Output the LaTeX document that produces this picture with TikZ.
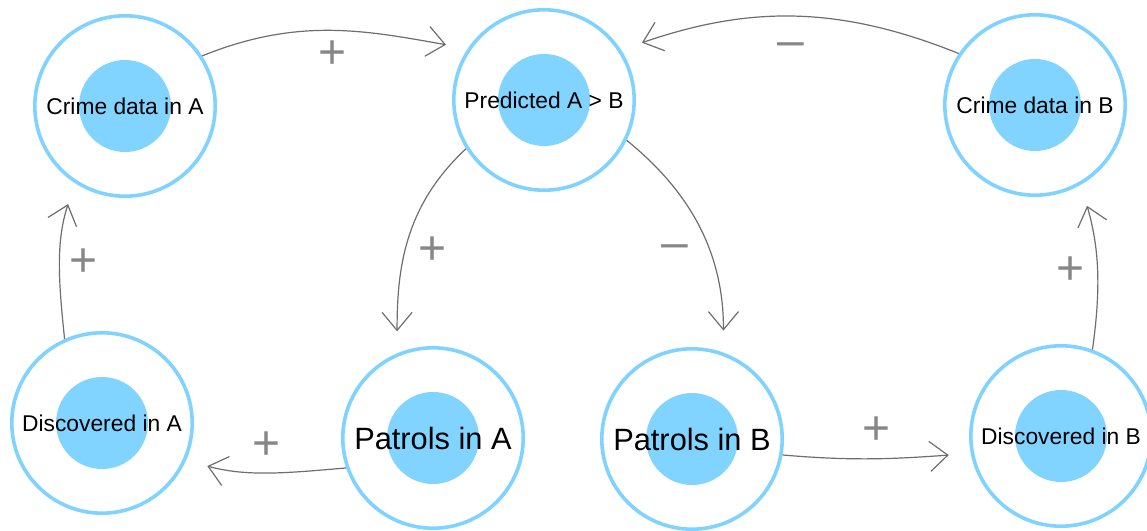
\documentclass[tikz,border=0pt]{standalone}
\usepackage{fontspec}
\setmainfont{Liberation Sans}
\usetikzlibrary{arrows.meta}
\definecolor{ringblue}{RGB}{128,210,255}
\definecolor{coreblue}{RGB}{128,212,255}
\definecolor{arrowgray}{RGB}{110,110,110}
\definecolor{signgray}{RGB}{135,135,135}
\begin{document}
\begin{tikzpicture}[x=1pt,y=1pt,
  core/.style={circle,fill=coreblue,minimum size=92pt,inner sep=0pt},
  ring/.style={circle,draw=ringblue,line width=3.6pt,minimum size=180.4pt,inner sep=0pt,
    font=\fontsize{22.8}{26}\selectfont,text=black},
  bigtext/.style={font=\fontsize{30.8}{34}\selectfont},
  conn/.style={draw=arrowgray,line width=1.2pt,shorten >=22pt,
    -{Straight Barb[length=18pt,width=30pt]}},
  plussign/.style={anchor=base,yshift=-16.8pt,text=signgray,
    font=\fontsize{48}{48}\selectfont,inner sep=0pt},
  minussign/.style={anchor=base,yshift=-12.3pt,text=signgray,
    font=\fontsize{48}{48}\selectfont,inner sep=0pt}]
\path[use as bounding box,fill=white] (0,0) rectangle (1147,530);

% cores
\node[core] (caC) at (125,424) {};
\node[core] (prC) at (544,430) {};
\node[core] (cbC) at (1035,425) {};
\node[core] (daC) at (102,107) {};
\node[core] (paC) at (433,92) {};
\node[core] (pbC) at (692,91) {};
\node[core] (dbC) at (1061,94) {};

% rings with labels
\node[ring] (ca) at (125,424) {Crime data in A};
\node[ring] (pr) at (544,430) {Predicted A > B};
\node[ring] (cb) at (1035,425) {Crime data in B};
\node[ring] (da) at (102,107) {Discovered in A};
\node[ring,bigtext] (pa) at (433,92) {Patrols in A};
\node[ring,bigtext] (pb) at (692,91) {Patrols in B};
\node[ring] (db) at (1061,94) {Discovered in B};

% connectors
\draw[conn] (ca.33) to[out=22,in=170] (pr.146);
\draw[conn] (cb.146) to[out=158,in=19] (pr.33);
\draw[conn] (pr.212) to[out=223,in=90] (pa.113);
\draw[conn] (pr.334) to[out=321,in=90] (pb.70);
\draw[conn] (pa.199) to[out=185,in=345] (da.336);
\draw[conn] (da.114) to[out=96,in=252] (ca.237);
\draw[conn] (pb.350) to[out=355,in=184] (db.191);
\draw[conn] (db.70) to[out=82,in=286] (cb.300);

% polarity signs
\node[plussign] (s1) at (333,478) {+};
\node[minussign] (s2) at (791,486) {\textendash};
\node[plussign] (s3) at (433,282) {+};
\node[minussign] (s4) at (675,284) {\textendash};
\node[plussign] (s5) at (267,87) {+};
\node[plussign] (s6) at (84,270) {+};
\node[plussign] (s7) at (877,102) {+};
\node[plussign] (s8) at (1070,262) {+};
\end{tikzpicture}
\end{document}
